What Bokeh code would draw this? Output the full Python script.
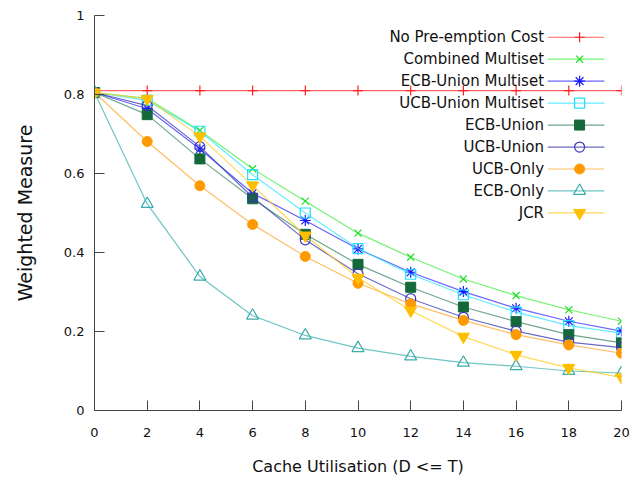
from bokeh.plotting import figure
from bokeh.models import FixedTicker, PrintfTickFormatter, Label, Range1d
from bokeh.embed import file_html
from bokeh.resources import INLINE

x_vals = [0, 2, 4, 6, 8, 10, 12, 14, 16, 18, 20]
x_ticks = [0, 2, 4, 6, 8, 10, 12, 14, 16, 18, 20]
y_ticks = [0, 0.2, 0.4, 0.6, 0.8, 1.0]

no_preemption = [0.81, 0.81, 0.81, 0.81, 0.81, 0.81, 0.81, 0.81, 0.81, 0.81, 0.81]
combined_multiset = [0.805, 0.79, 0.709, 0.612, 0.53, 0.449, 0.388, 0.333, 0.291, 0.255, 0.226]
ecb_union_multiset = [0.805, 0.764, 0.662, 0.55, 0.481, 0.409, 0.35, 0.301, 0.259, 0.226, 0.201]
ucb_union_multiset = [0.805, 0.785, 0.707, 0.597, 0.50, 0.41, 0.345, 0.293, 0.249, 0.215, 0.196]
ecb_union = [0.805, 0.749, 0.637, 0.536, 0.446, 0.37, 0.312, 0.262, 0.225, 0.192, 0.171]
ucb_union = [0.805, 0.772, 0.668, 0.54, 0.432, 0.346, 0.283, 0.236, 0.201, 0.173, 0.159]
ucb_only = [0.805, 0.681, 0.569, 0.471, 0.39, 0.322, 0.27, 0.228, 0.192, 0.166, 0.145]
ecb_only = [0.805, 0.523, 0.339, 0.24, 0.19, 0.158, 0.137, 0.121, 0.112, 0.1, 0.095]
jcr = [0.805, 0.789, 0.694, 0.57, 0.443, 0.336, 0.253, 0.187, 0.141, 0.108, 0.084]

series_names = ["No Pre-emption Cost", "Combined Multiset", "ECB-Union Multiset",
                "UCB-Union Multiset", "ECB-Union", "UCB-Union", "UCB-Only",
                "ECB-Only", "JCR"]
series_values = [no_preemption, combined_multiset, ecb_union_multiset,
                 ucb_union_multiset, ecb_union, ucb_union, ucb_only, ecb_only, jcr]

# style: (line color, marker color, marker, filled, size)
styles = [
    ("#ff3030", "#ff2020", "cross", False, 10),
    ("#44ee44", "#22dd22", "x", False, 10),
    ("#3333ff", "#1a1aff", "asterisk", False, 11),
    ("#33e6ff", "#22ddff", "square", False, 10),
    ("#3f8a64", "#14683a", "square", True, 10),
    ("#3a3ab0", "#3a3ab8", "circle", False, 10),
    ("#ffaa33", "#ff9900", "circle", True, 10),
    ("#3fb0b0", "#3aacac", "triangle", False, 12),
    ("#ffcc22", "#ffbf00", "inverted_triangle", True, 12),
]

FONT = "DejaVu Sans"

p = figure(width=642, height=478, output_backend="svg", toolbar_location=None,
           x_range=Range1d(0, 20), y_range=Range1d(0, 1),
           min_border_left=94, min_border_right=21, min_border_top=15,
           min_border_bottom=68)
p.outline_line_color = None
p.xgrid.visible = False
p.ygrid.visible = False
p.background_fill_color = "white"
p.border_fill_color = "white"

for ax in (p.xaxis[0], p.yaxis[0]):
    ax.axis_line_color = "#444444"
    ax.major_tick_line_color = "#444444"
    ax.major_tick_in = 10
    ax.major_tick_out = 0
    ax.minor_tick_line_color = None
    ax.major_label_text_font = FONT
    ax.major_label_text_font_size = "13px"
    ax.major_label_text_color = "#111111"
    ax.axis_label_text_font = FONT
    ax.axis_label_text_font_style = "normal"
    ax.axis_label_text_color = "#111111"

p.xaxis[0].ticker = FixedTicker(ticks=x_ticks)
p.yaxis[0].ticker = FixedTicker(ticks=y_ticks)
p.yaxis[0].formatter = PrintfTickFormatter(format="%g")
p.xaxis[0].major_label_standoff = 17
p.yaxis[0].major_label_standoff = 10
p.xaxis[0].axis_label = "Cache Utilisation (D <= T)"
p.yaxis[0].axis_label = "Weighted Measure"
p.xaxis[0].axis_label_text_font_size = "16px"
p.yaxis[0].axis_label_text_font_size = "19px"
p.xaxis[0].axis_label_standoff = 17
p.yaxis[0].axis_label_standoff = 25


def draw_marker(xs, ys, mcol, marker, filled, size):
    if filled:
        p.scatter(xs, ys, marker=marker, size=size, fill_color=mcol,
                  line_color=mcol, line_width=1)
    else:
        p.scatter(xs, ys, marker=marker, size=size, fill_color=None,
                  line_color=mcol, line_width=1.2)


for vals, (lcol, mcol, marker, filled, size) in zip(series_values, styles):
    p.line(x_vals, vals, line_color=lcol, line_width=1.2, line_alpha=0.75)
    draw_marker(x_vals, vals, mcol, marker, filled, size)

# legend (text on left, sample on right), positioned in data space
leg_text_x = 17.06
leg_line_x0 = 17.2
leg_line_x1 = 19.35
leg_mark_x = 18.41
leg_y0 = 0.945
leg_dy = 0.0556
for i, (name, (lcol, mcol, marker, filled, size)) in enumerate(zip(series_names, styles)):
    yy = leg_y0 - i * leg_dy
    p.add_layout(Label(x=leg_text_x, y=yy, text=name, text_align="right",
                       text_baseline="middle", text_font=FONT,
                       text_font_size="15px", text_color="#111111"))
    p.line([leg_line_x0, leg_line_x1], [yy, yy], line_color=lcol,
           line_width=1.2, line_alpha=0.75)
    draw_marker([leg_mark_x], [yy], mcol, marker, filled, size)

open("out.html", "w").write(file_html(p, INLINE))
